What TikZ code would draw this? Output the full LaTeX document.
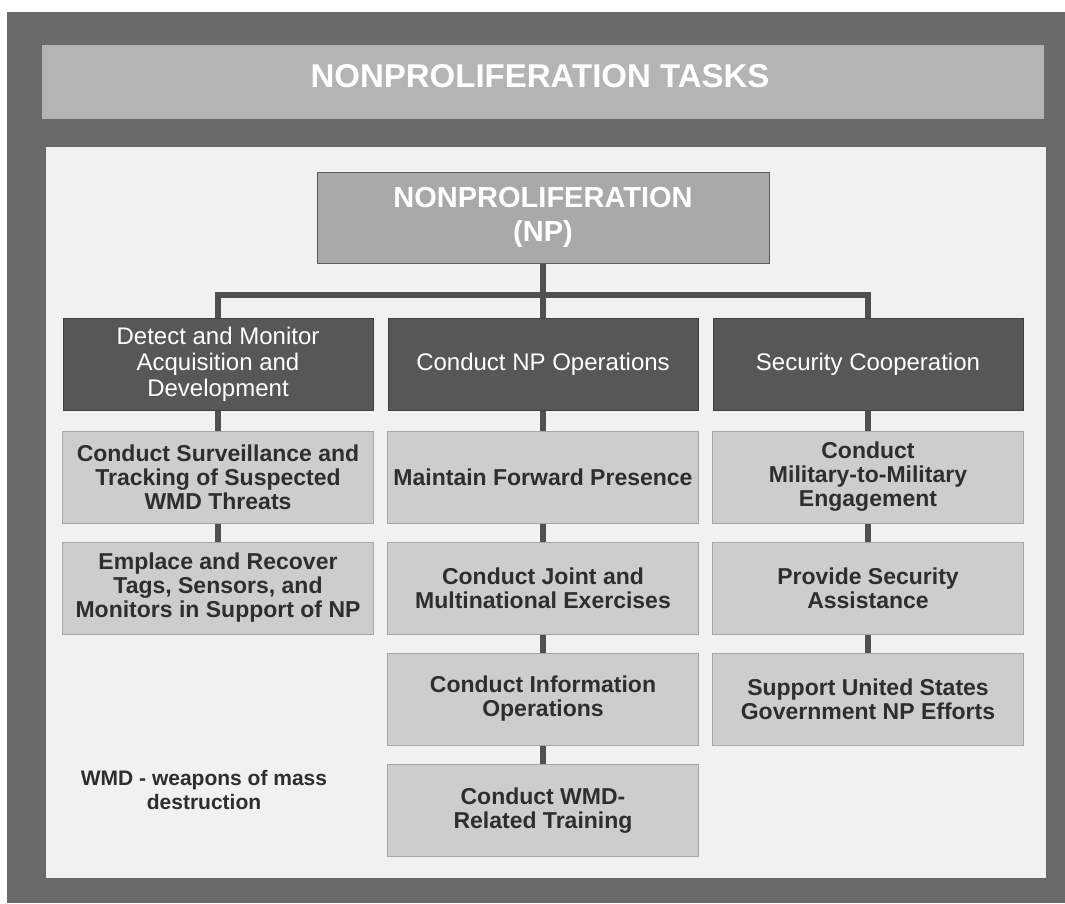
\documentclass[tikz,border=0pt]{standalone}
\usepackage{fontspec}
\setmainfont{Liberation Sans}
\usepackage{tikz}
\usetikzlibrary{positioning}

\definecolor{frame}{HTML}{6A6A6A}
\definecolor{banner}{HTML}{B4B4B4}
\definecolor{panel}{HTML}{F1F1F1}
\definecolor{topbox}{HTML}{A9A9A9}
\definecolor{headbox}{HTML}{575757}
\definecolor{taskbox}{HTML}{CDCDCD}
\definecolor{linkcol}{HTML}{505050}
\definecolor{tasktext}{HTML}{2E2E2E}

\begin{document}
\begin{tikzpicture}[x=1pt,y=-1pt,
    head/.style={rectangle,draw=black!75,line width=1pt,fill=headbox,text=white,
      minimum width=310pt,minimum height=92pt,align=center,
      font=\fontsize{24}{26}\selectfont},
    task/.style={rectangle,draw=black!35,line width=1pt,fill=taskbox,text=tasktext,
      minimum width=311pt,minimum height=92pt,align=center,
      font=\bfseries\fontsize{23}{24}\selectfont},
    link/.style={draw=linkcol,line width=6pt}]

    \useasboundingbox (0,0) rectangle (1065,903);
    \fill[white] (0,0) rectangle (1065,903);
    \fill[frame] (7,12) rectangle (1065,903);
    \draw[fill=banner,draw=black!30] (42,45) rectangle (1043,118);
    \draw[fill=panel,draw=black!60] (45,146) rectangle (1046,878);

    \node[text=white,font=\bfseries\fontsize{33}{36}\selectfont] (title) at (540,76) {NONPROLIFERATION TASKS};

    \node[rectangle,draw=black!65,line width=1pt,fill=topbox,text=white,
      minimum width=452pt,minimum height=91pt,align=center,
      font=\bfseries\fontsize{29}{34}\selectfont] (np) at (543,217.5) {NONPROLIFERATION\\(NP)};

    \node[head] (det) at (218,364.5) {Detect and Monitor\\Acquisition and\\Development};
    \node[head] (ops) at (543,364.5) {Conduct NP Operations};
    \node[head] (sec) at (868,364.5) {Security Cooperation};

    \node[task] (d1) at (218,477)   {Conduct Surveillance and\\Tracking of Suspected\\WMD Threats};
    \node[task] (d2) at (218,588)   {Emplace and Recover\\Tags, Sensors, and\\Monitors in Support of NP};

    \node[task] (o1) at (543,477)   {Maintain Forward Presence};
    \node[task] (o2) at (543,588)   {Conduct Joint and\\Multinational Exercises};
    \node[task] (o3) at (543,699)   {Conduct Information\\Operations};
    \node[task] (o4) at (543,810.5) {Conduct WMD-\\Related Training};

    \node[task] (s1) at (868,477)   {Conduct\\Military-to-Military\\Engagement};
    \node[task] (s2) at (868,588)   {Provide Security\\Assistance};
    \node[task] (s3) at (868,699)   {Support United States\\Government NP Efforts};

    \node[text=tasktext,align=center,font=\bfseries\fontsize{21}{24}\selectfont] (note) at (204,790) {WMD - weapons of mass\\destruction};

    \coordinate (bar) at (543,295);

    \draw[link] (np.south) -- (ops.north);
    \draw[link] (det.north) |- (bar) -| (sec.north);

    \draw[link] (det) edge (d1) (d1) edge (d2);
    \draw[link] (ops) edge (o1) (o1) edge (o2) (o2) edge (o3) (o3) edge (o4);
    \draw[link] (sec) edge (s1) (s1) edge (s2) (s2) edge (s3);
  \end{tikzpicture}
\end{document}
